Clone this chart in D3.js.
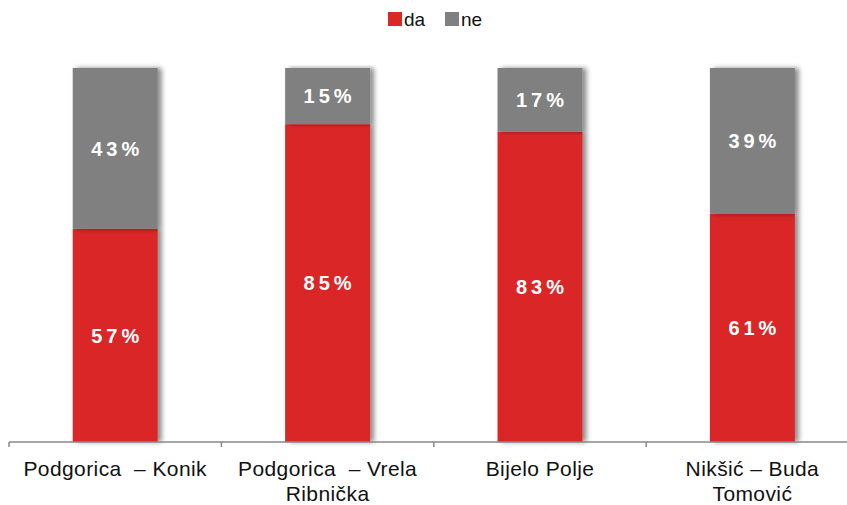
<!DOCTYPE html>
<html>
<head>
<meta charset="utf-8">
<script src="https://cdn.jsdelivr.net/npm/d3@7"></script>
<style>
  body { margin: 0; background: #fff; }
  text { font-family: "Liberation Sans", Arial, sans-serif; white-space: pre; }
</style>
</head>
<body>
<div id="chart"></div>
<script>
(function() {
  var categories = ["Podgorica  \u2013 Konik", "Podgorica  \u2013 Vrela Ribni\u010dka", "Bijelo Polje", "Nik\u0161i\u0107 \u2013 Buda Tomovi\u0107"];
  var labelLines = [["Podgorica  \u2013 Konik"], ["Podgorica  \u2013 Vrela", "Ribni\u010dka"], ["Bijelo Polje"], ["Nik\u0161i\u0107 \u2013 Buda", "Tomovi\u0107"]];
  var da = [57, 85, 83, 61];
  var ne = [43, 15, 17, 39];
  var seriesNames = ["da", "ne"];
  var colors = ["#da2826", "#808080"];

  var width = 847, height = 505;
  var margin = {top: 68, left: 9, bottom: 63};
  var bandW = 212.4;

  var svg = d3.select("#chart").append("svg")
      .attr("width", width)
      .attr("height", height);

  var defs = svg.append("defs");
  var f = defs.append("filter").attr("id", "shadow")
      .attr("x", "-10%").attr("y", "-5%").attr("width", "130%").attr("height", "110%");
  f.append("feDropShadow")
      .attr("dx", 4).attr("dy", 0).attr("stdDeviation", 2.5)
      .attr("flood-color", "#000").attr("flood-opacity", 0.45);

  var x = d3.scaleBand()
      .domain(categories)
      .range([margin.left, margin.left + bandW * categories.length])
      .paddingInner(0.6).paddingOuter(0.3);

  var y = d3.scaleLinear()
      .domain([0, 100])
      .range([height - margin.bottom, margin.top]);

  var rows = categories.map(function(c, i) { return {cat: c, da: da[i], ne: ne[i]}; });
  var stack = d3.stack().keys(seriesNames)(rows);

  var groups = svg.append("g").selectAll("g")
      .data(stack)
      .enter().append("g")
      .attr("fill", function(d, i) { return colors[i]; });

  // bars with shadow
  groups.selectAll("rect")
      .data(function(d) { return d; })
      .enter().append("rect")
      .attr("x", function(d) { return x(d.data.cat); })
      .attr("width", x.bandwidth())
      .attr("y", function(d) { return y(d[1]); })
      .attr("height", function(d) { return y(d[0]) - y(d[1]); })
      .attr("filter", "url(#shadow)");

  // value labels
  stack.forEach(function(s) {
    svg.append("g").selectAll("text")
      .data(s)
      .enter().append("text")
      .attr("x", function(d) { return x(d.data.cat) + x.bandwidth() / 2 + 2; })
      .attr("y", function(d) { return (y(d[0]) + y(d[1])) / 2; })
      .attr("dy", "0.36em")
      .attr("text-anchor", "middle")
      .attr("fill", "#fff")
      .attr("font-size", 20)
      .attr("font-weight", "bold")
      .attr("letter-spacing", 4)
      .text(function(d) { return (d[1] - d[0]) + "%"; });
  });

  // x axis line and ticks
  var axisY = y(0);
  var ax = svg.append("g").attr("stroke", "#888").attr("stroke-width", 1.5);
  ax.append("line")
      .attr("x1", margin.left).attr("x2", width)
      .attr("y1", axisY).attr("y2", axisY);
  d3.range(categories.length + 1).forEach(function(i) {
    var tx = margin.left + i * bandW;
    ax.append("line")
      .attr("x1", tx).attr("x2", tx)
      .attr("y1", axisY).attr("y2", axisY + 5);
  });

  // category labels
  svg.append("g").selectAll("text")
      .data(categories)
      .enter().append("text")
      .attr("text-anchor", "middle")
      .attr("font-size", 21)
      .attr("letter-spacing", 0.4)
      .attr("fill", "#111")
      .attr("transform", function(d) { return "translate(" + (x(d) + x.bandwidth() / 2) + "," + (axisY + 34) + ")"; })
      .each(function(d, i) {
        var t = d3.select(this);
        labelLines[i].forEach(function(line, j) {
          t.append("tspan").attr("x", 0).attr("y", j * 25).text(line);
        });
      });

  // legend
  var legend = svg.append("g").attr("transform", "translate(388,12)");
  var lx = [0, 57];
  seriesNames.forEach(function(n, i) {
    var g = legend.append("g").attr("transform", "translate(" + lx[i] + ",0)");
    g.append("rect").attr("width", 14).attr("height", 14).attr("fill", colors[i]);
    g.append("text").attr("x", 16).attr("y", 14).attr("font-size", 19).attr("fill", "#111").text(n);
  });
})();
</script>
</body>
</html>
